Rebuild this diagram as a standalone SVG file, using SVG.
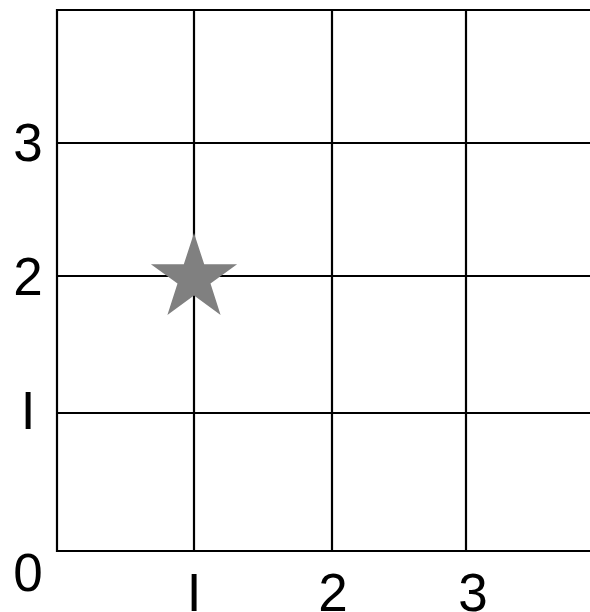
<svg xmlns="http://www.w3.org/2000/svg" width="590" height="612" viewBox="0 0 590 612">
<style>
.grid line{stroke:#000;stroke-width:2.2}
.lbl{font-family:"Liberation Sans",Arial,sans-serif;font-size:53px;fill:#000;text-anchor:middle}
</style>
<rect width="590" height="612" fill="#fff"/>
<g id="grid" class="grid">
<line x1="57" y1="10" x2="590" y2="10"/>
<line x1="57" y1="143" x2="590" y2="143"/>
<line x1="57" y1="276" x2="590" y2="276"/>
<line x1="57" y1="413" x2="590" y2="413"/>
<line x1="56" y1="551" x2="590" y2="551"/>
<line x1="57" y1="9" x2="57" y2="552"/>
<line x1="194" y1="9" x2="194" y2="552"/>
<line x1="332" y1="9" x2="332" y2="552"/>
<line x1="466" y1="9" x2="466" y2="552"/>
</g>
<g id="yaxis" class="lbl">
<text x="28" y="161">3</text>
<text x="28" y="295">2</text>
<text x="28" y="429">I</text>
<text x="28" y="591">0</text>
</g>
<g id="xaxis" class="lbl">
<text x="194" y="611">I</text>
<text x="333" y="611">2</text>
<text x="473" y="611">3</text>
</g>
<g id="star">
<polygon fill="#808080" points="194,233 204.2,264.3 237.1,264.3 210.5,283.6 220.6,314.9 194,295.6 167.4,314.9 177.5,283.6 150.9,264.3 183.8,264.3"/>
</g>
</svg>
